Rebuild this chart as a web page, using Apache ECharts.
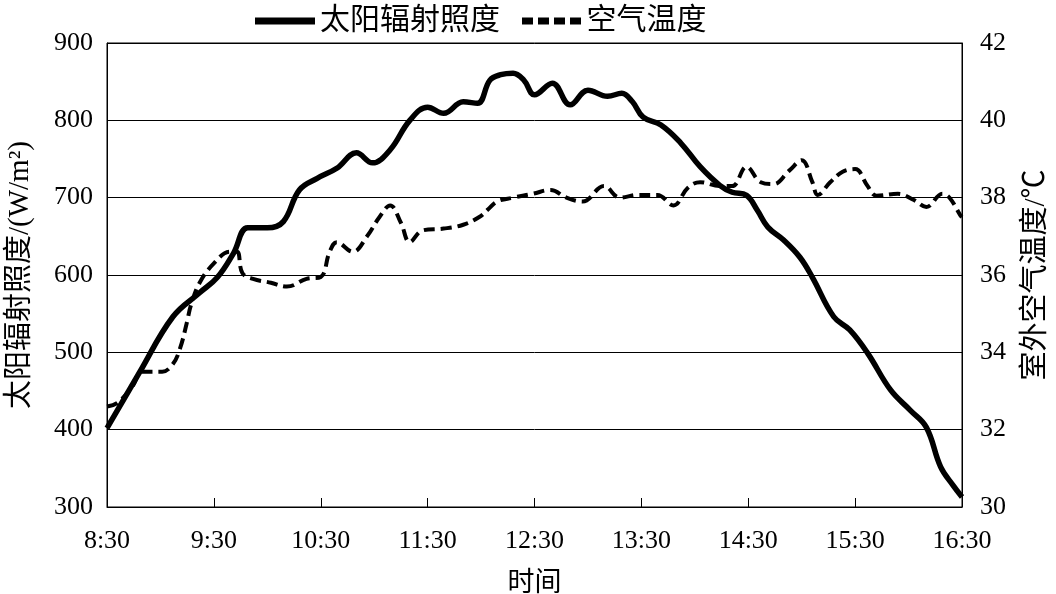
<!DOCTYPE html>
<html><head><meta charset="utf-8">
<script src="https://cdn.jsdelivr.net/npm/echarts@6/dist/echarts.min.js"></script>
<style>html,body{margin:0;padding:0;background:#fff}#c{width:1056px;height:594px}</style>
</head><body><div id="c"></div>
<script>
const tickLabels = ['8:30','9:30','10:30','11:30','12:30','13:30','14:30','15:30','16:30'];
// minutes after 8:30
const solarTime = [0,18,37,52,62,71,79,90,99,108,118,129,140,149,159,170,180,189,200,208,215,221,228,234,240,250,260,270,281,289,295,301,311,322,333,344,351,359,365,371,380,389,396,408,417,427,440,451,460,468,475,480];
const solar = [402,473,546,577,597,628,661,661,669,710,725,738,758,745,762,800,817,809,824,822,852,859,861,852,833,848,820,839,831,835,824,804,794,771,740,716,707,703,684,662,645,623,597,546,529,499,451,425,403,352,328,313];
const tempTime = [0,6,14,20,31,37,41,45,47,52,60,69,73,76,82,92,101,112,120,125,129,138,146,153,159,165,170,177,189,200,209,214,219,228,239,249,258,267,279,288,298,309,318,326,333,344,351,359,367,374,383,390,396,399,406,413,420,427,432,444,453,460,469,473,479,480];
const temp = [32.6,32.7,33.1,33.5,33.5,33.7,34.1,34.8,35.2,35.8,36.3,36.6,36.6,36.05,35.9,35.8,35.7,35.9,35.95,36.6,36.85,36.6,37.0,37.5,37.8,37.35,36.85,37.15,37.2,37.3,37.5,37.7,37.9,38.0,38.1,38.2,38.0,37.9,38.3,38.0,38.07,38.07,37.8,38.25,38.4,38.3,38.3,38.8,38.4,38.35,38.7,38.97,38.4,38.07,38.4,38.67,38.74,38.3,38.05,38.1,37.94,37.76,38.1,38.0,37.55,37.5];

const FONT = "'Liberation Serif','Noto Sans CJK SC',serif";
const chart = echarts.init(document.getElementById('c'));
chart.setOption({
  animation: false,
  backgroundColor: '#fff',
  textStyle: {fontFamily: FONT, color: '#000'},
  legend: {
    top: 1, left: 250,
    itemWidth: 60, itemHeight: 7, itemGap: 22,
    textStyle: {fontFamily: FONT, fontSize: 30, color: '#000'},
    itemStyle: {color: '#000', borderWidth: 0},
    data: [
      {name: '太阳辐射照度', icon: 'path://M0,0H60V7H0Z'},
      {name: '空气温度', icon: 'path://M0,0H11V7H0Z M16,0H27V7H16Z M32,0H43V7H32Z M48,0H59V7H48Z'}
    ]
  },
  grid: {left: 107, right: 94, top: 43, bottom: 87, outerBoundsMode: 'none', containLabel: false,
    show: true, borderColor: '#000', borderWidth: 1},
  xAxis: {
    type: 'value', min: 0, max: 480, interval: 60,
    name: '时间', nameLocation: 'middle', nameGap: 63,
    nameTextStyle: {fontFamily: FONT, fontSize: 27, color: '#000'},
    axisLine: {lineStyle: {color: '#000', width: 1}},
    axisTick: {inside: true, length: 9, lineStyle: {color: '#000'}},
    axisLabel: {fontFamily: FONT, fontSize: 26, color: '#000', margin: 21,
      formatter: v => tickLabels[Math.round(v / 60)]},
    splitLine: {show: false}
  },
  yAxis: [{
    type: 'value', min: 300, max: 900, interval: 100,
    name: '太阳辐射照度/(W/m²)', nameLocation: 'middle', nameGap: 72, nameRotate: 90,
    nameTextStyle: {fontFamily: FONT, fontSize: 29, color: '#000'},
    axisLine: {show: true, lineStyle: {color: '#000'}},
    axisTick: {show: false},
    axisLabel: {fontFamily: FONT, fontSize: 26, color: '#000', margin: 14},
    splitLine: {show: true, lineStyle: {color: '#000', width: 1}}
  }, {
    type: 'value', min: 30, max: 42, interval: 2,
    name: '室外空气温度/℃', nameLocation: 'middle', nameGap: 60, nameRotate: 90,
    nameTextStyle: {fontFamily: FONT, fontSize: 29, color: '#000'},
    axisLine: {show: true, lineStyle: {color: '#000'}},
    axisTick: {show: false},
    axisLabel: {fontFamily: FONT, fontSize: 26, color: '#000', margin: 18},
    splitLine: {show: false}
  }],
  series: [{
    name: '太阳辐射照度', type: 'line', yAxisIndex: 0,
    data: solarTime.map((t, i) => [t, solar[i]]),
    smooth: 0.4, symbol: 'none', showSymbol: false,
    lineStyle: {color: '#000', width: 5.5},
    itemStyle: {color: '#000'}
  }, {
    name: '空气温度', type: 'line', yAxisIndex: 1,
    data: tempTime.map((t, i) => [t, temp[i]]),
    smooth: 0.4, symbol: 'none', showSymbol: false,
    lineStyle: {color: '#000', width: 4, type: [11, 6]},
    itemStyle: {color: '#000'}
  }]
});
</script></body></html>
